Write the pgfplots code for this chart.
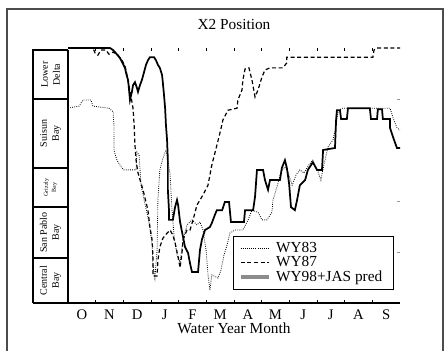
\documentclass[border=0pt]{standalone}
\usepackage{fontspec}
\setmainfont{Liberation Serif}
\usepackage{pgfplots}
\pgfplotsset{compat=1.18}
\begin{document}
\begin{tikzpicture}
\useasboundingbox (0pt,0pt) rectangle (334.5pt,262.5pt);
\draw[line width=0.9pt, black!70] (5.25pt,-2pt) -- (5.25pt,255.75pt) -- (332.25pt,255.75pt) -- (332.25pt,-2pt);
\begin{axis}[
  at={(51pt,35.25pt)}, anchor=south west,
  scale only axis, width=249pt, height=191.25pt,
  xmin=0, xmax=12, ymin=40, ymax=90,
  axis line style={draw=none},
  clip=false,
  xtick={0.5,1.5,...,11.5},
  xticklabels={O,N,D,J,F,M,A,M,J,J,A,S},
  minor xtick={1,...,11},
  xtick pos=both, xticklabel pos=bottom,
  major x tick style={draw=none},
  minor x tick style={black, line width=0.6pt},
  minor tick length=2.5pt,
  ytick={50,60,80}, yticklabels={},
  ytick pos=right,
  ytick style={black!40, line width=0.5pt},
  major tick length=2pt,
  tick align=inside,
  xticklabel style={font=\fontsize{11}{11}\selectfont, anchor=base, yshift=-12.5pt},
  title={X2 Position},
  title style={at={(axis description cs:0.5,1)}, anchor=center, yshift=12pt, font=\fontsize{11.5}{12}\selectfont},
  xlabel={Water Year Month},
  xlabel style={at={(axis description cs:0.5,0)}, anchor=center, yshift=-18.75pt, font=\fontsize{11.5}{12}\selectfont},
  legend style={at={(0.497,0.051)}, anchor=south west, draw=black, line width=0.9pt,
    font=\fontsize{11.5}{11}\selectfont, row sep=-2.5pt, inner xsep=4pt, inner ysep=2.5pt,
    cells={anchor=west}, nodes={inner xsep=4.5pt}},
  legend image code/.code={\draw[#1] (0pt,0pt) -- (21pt,0pt);},
]
% WY83 (dotted)
\addplot[black, line width=0.6pt, densely dotted] coordinates {
(0,78.2) (0.40,78.6) (0.54,79.8) (0.83,79.8) (0.90,78.6) (1.48,78.2) (1.63,77.5)
(1.66,74.9) (1.66,70.0) (1.77,68.0) (1.92,66.7) (2.02,66.1) (2.46,66.1) (2.49,69.6)
(2.57,69.0) (2.64,63.1) (2.75,60.2) (2.86,57.6) (2.96,54.7) (3.04,51.4) (3.07,47.5)
(3.14,44.9) (3.22,50.4) (3.25,60.2) (3.32,66.1) (3.43,68.4) (3.54,70.0) (3.61,68.0)
(3.69,65.1) (3.76,58.2) (3.83,53.3) (3.94,49.4) (4.05,48.0) (4.16,52.4) (4.30,55.3)
(4.48,56.3) (4.66,55.3) (4.77,55.9) (4.88,54.3) (4.99,50.4) (5.06,45.5) (5.13,42.5)
(5.20,45.5) (5.42,44.9) (5.53,46.5) (5.64,49.4) (5.75,51.4) (5.85,53.7) (6.04,54.3)
(6.32,54.3) (6.51,56.3) (6.65,58.2) (6.87,57.8) (7.01,56.3) (7.19,56.3) (7.37,57.8)
(7.41,60.2) (7.55,62.7) (7.70,65.7) (7.84,66.7) (7.95,65.7) (8.10,63.1) (8.24,65.1)
(8.38,66.1) (8.53,65.5) (8.71,67.1) (8.85,68.0) (9.04,65.7) (9.14,64.1) (9.25,67.1)
(9.40,70.6) (9.58,72.0) (9.69,74.9) (9.76,77.5) (9.90,78.2) (11.64,78.2) (11.75,76.3)
(11.89,74.3) (12,73.9)
};
\addlegendentry{WY83}
% WY87 (dashed)
\addplot[black, line width=0.9pt, dash pattern=on 3pt off 2pt] coordinates {
(0,90.0) (0.90,90.0) (0.98,89.0) (1.08,88.6) (1.19,89.6) (1.37,89.6) (1.48,88.8)
(1.63,89.2) (1.81,88.6) (1.95,87.6) (2.06,86.5) (2.13,84.7) (2.20,82.7) (2.28,80.4)
(2.35,78.2) (2.39,74.9) (2.42,71.0) (2.46,68.0) (2.53,65.5) (2.71,62.2) (2.89,58.2)
(2.96,54.9) (3.04,52.4) (3.07,49.0) (3.07,45.3) (3.22,45.3) (3.25,48.4) (3.32,51.0)
(3.43,52.7) (3.58,53.7) (3.69,54.3) (3.79,53.3) (3.87,51.8) (3.98,49.0) (4.05,46.9)
(4.12,49.8) (4.16,52.4) (4.30,54.3) (4.41,54.3) (4.52,56.3) (4.66,59.2) (4.88,61.2)
(5.06,63.1) (5.20,67.1) (5.31,69.4) (5.49,73.3) (5.60,75.9) (5.78,77.8) (6.11,78.2)
(6.14,79.8) (6.29,81.8) (6.32,83.7) (6.40,85.9) (6.54,86.1) (6.65,83.7) (6.76,80.4)
(6.87,81.8) (7.01,84.3) (7.12,85.7) (7.30,86.1) (7.77,86.1) (7.91,87.1) (7.91,88.2)
(11.02,88.2) (11.06,89.6) (11.17,90.0) (12,90.0)
};
\addlegendentry{WY87}
% WY98 + JAS prediction (solid)
\addplot[black, line width=1.3pt, forget plot] coordinates {
(0,90.0) (1.52,90.0) (1.63,89.6) (1.73,89.0) (1.88,88.0) (1.95,87.3) (2.06,86.1)
(2.10,85.1) (2.17,83.7) (2.20,82.2) (2.24,79.8) (2.31,81.4) (2.35,82.7) (2.42,83.3)
(2.49,82.2) (2.53,81.4) (2.60,82.7) (2.67,83.7) (2.75,85.3) (2.82,86.7) (2.89,87.6)
(2.96,88.2) (3.11,88.2) (3.18,87.6) (3.25,86.7) (3.32,86.1) (3.40,84.7) (3.43,83.1)
(3.47,80.8) (3.51,78.2) (3.54,74.9) (3.58,72.0) (3.61,68.0) (3.61,62.2) (3.65,58.2)
(3.65,56.3) (3.79,56.3) (3.87,58.8) (3.94,60.2) (3.98,59.2) (4.05,55.9) (4.16,52.9)
(4.23,51.0) (4.34,49.8) (4.41,47.8) (4.48,46.1) (4.70,46.1) (4.77,50.4) (4.84,52.4)
(4.95,54.3) (5.13,54.9) (5.20,55.7) (5.31,57.3) (5.38,58.2) (5.57,58.2) (5.67,59.8)
(5.82,59.8) (5.89,55.9) (6.36,55.9) (6.40,58.2) (6.69,58.2) (6.76,60.8) (6.83,66.1)
(7.05,66.1) (7.12,64.1) (7.23,62.2) (7.30,64.1) (7.66,64.1) (7.73,66.5) (7.84,68.0)
(7.91,66.5) (7.99,63.5) (8.06,58.8) (8.20,58.2) (8.28,60.2) (8.38,63.1) (8.57,64.1)
(8.67,66.1) (8.85,67.6) (9.00,66.1) (9.18,66.1) (9.22,70.0) (9.65,70.4) (9.69,75.9)
(9.72,77.8) (9.83,77.8) (9.87,76.1) (10.08,76.1) (10.12,78.2) (10.91,78.2) (10.95,76.1)
(11.17,76.1) (11.20,78.0) (11.35,78.0) (11.38,76.1) (11.64,76.1) (11.64,74.3) (11.75,72.5)
(11.89,70.4) (12,70.4)
};
\addlegendimage{legend image code/.code={\draw[black!45, line width=2.4pt] (0pt,0pt) -- (21pt,0pt);}}
\addlegendentry{WY98+JAS pred}
\end{axis}
% axis lines and zone column
\draw[line width=0.8pt] (24.75pt,35.25pt) -- (300pt,35.25pt);
\draw[line width=0.8pt] (51pt,35.25pt) -- (51pt,225pt);
\draw[line width=0.8pt] (24.75pt,35.25pt) -- (24.75pt,225pt) -- (51pt,225pt);
\foreach \yy in {188.25,136.5,107.25,69.0} {\draw[line width=0.8pt] (24.75pt,\yy pt) -- (51pt,\yy pt);}
\begin{scope}[every node/.style={rotate=90, align=center, inner sep=0pt}]
\node[font=\fontsize{7.5}{9}\selectfont] at (37.9pt,206.6pt) {Lower\\Delta};
\node[font=\fontsize{7.5}{9}\selectfont] at (37.9pt,162.4pt) {Suisun\\Bay};
\node[font=\fontsize{4.5}{6}\selectfont] at (37.9pt,121.9pt) {Grizzly\\Bay};
\node[font=\fontsize{7.5}{9}\selectfont] at (37.9pt,88.1pt) {San Pablo\\Bay};
\node[font=\fontsize{7.5}{9}\selectfont] at (37.9pt,52.1pt) {Central\\Bay};
\end{scope}
\end{tikzpicture}
\end{document}
